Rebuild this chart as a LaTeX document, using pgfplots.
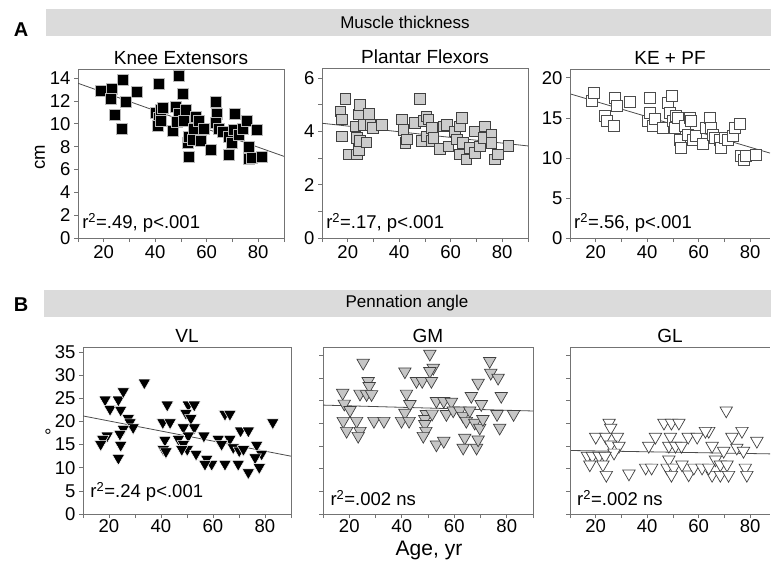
\documentclass[border=0pt]{standalone}
\usepackage{fontspec}
\setmainfont{Liberation Sans}
\usepackage{pgfplots}
\pgfplotsset{compat=1.18}
\newcommand\fs[1]{\fontsize{#1}{#1}\selectfont}
\definecolor{frame}{gray}{0.45}
\definecolor{bann}{gray}{0.86}
\tikzset{rlab/.style={anchor=base west, font=\fs{18.5}, inner sep=0pt}}
\pgfplotsset{
  panel/.style={
    scale only axis, anchor=south west, width=206pt,
    xmin=10, xmax=90, ymin=0,
    xtick={20,40,60,80}, minor xtick={10,30,50,70,90},
    tick pos=left, tick align=outside,
    major tick length=4pt, minor tick length=4pt,
    axis line style={frame, line width=0.7pt},
    every tick/.append style={frame, line width=0.7pt},
    every minor tick/.append style={frame, line width=0.7pt},
    tick label style={font=\fs{18.5}, black},
    /pgf/number format/assume math mode=true,
    title style={font=\fs{19}, yshift=-5pt},
  },
  lowrow/.style={xticklabel style={yshift=2pt}},
  openright/.style={separate axis lines, y axis line style={draw=none},
    extra description/.code={\draw[frame, line width=0.7pt] (rel axis cs:0,0) -- (rel axis cs:0,1);}},
  reg/.style={black!70, line width=0.8pt, no marks},
  sqK/.style={only marks, mark=square*, mark size=5.5pt, mark options={fill=black, draw=gray!55, line width=0.5pt}},
  sqP/.style={only marks, mark=square*, mark size=5.3pt, mark options={fill=gray!40, draw=black!75, line width=0.7pt}},
  sqT/.style={only marks, mark=square*, mark size=5.5pt, mark options={fill=white, draw=black!70, line width=0.7pt}},
  trK/.style={only marks, mark=triangle*, mark size=7.2pt, mark options={rotate=180, fill=black, draw=white, line width=0.5pt}},
  trG/.style={only marks, mark=triangle*, mark size=7.2pt, mark options={rotate=180, fill=gray!45, draw=black!75, line width=0.7pt}},
  trW/.style={only marks, mark=triangle*, mark size=7.2pt, mark options={rotate=180, fill=white, draw=black!75, line width=0.7pt}},
}
\begin{document}
\begin{tikzpicture}
\path (0pt,0pt) rectangle (771pt,-565pt);
% banners
\fill[bann] (46pt,-9pt) rectangle (771pt,-36pt);
\node[font=\fs{17}] at (405pt,-22.5pt) {Muscle thickness};
\fill[bann] (44pt,-290pt) rectangle (771pt,-317pt);
\node[font=\fs{17}] at (407pt,-303.5pt) {Pennation angle};
\node[font=\bfseries\fs{20}] at (21pt,-30pt) {A};
\node[font=\bfseries\fs{20}] at (21pt,-305pt) {B};
\node[font=\fs{18.5}, rotate=90] at (40pt,-157pt) {cm};
\node[font=\fs{18.5}, rotate=90] at (52pt,-432pt) {°};
\node[font=\fs{21}, inner sep=0pt, anchor=base] at (429pt,-555pt) {Age, yr};

% ---- Knee Extensors
\begin{axis}[panel, at={(78pt,-238pt)}, height=169pt, ymax=14.8,
  ytick={0,2,4,6,8,10,12,14}, title={Knee Extensors}]
\addplot[reg] coordinates {(10,13.55) (90,7.15)};
\addplot[sqK] coordinates {
(18.8,12.9) (23.3,13.1) (22.9,12.2) (24.2,10.8) (27.4,13.9) (27.1,9.6) (28.4,11.9)
(32.8,12.8) (41.3,13.5) (40.3,11.0) (41.3,10.5) (40.9,9.8) (42.2,11.2) (42.2,10.3)
(42.9,11.4) (46.7,9.4) (48.0,11.5) (49.0,14.2) (49.3,10.9) (48.4,10.2) (50.6,12.6)
(51.2,10.3) (51.9,11.2) (52.5,8.3) (52.9,8.9) (52.9,7.1) (54.5,8.6) (55.1,9.6)
(55.7,10.6) (57.0,10.3) (57.7,8.5) (59.0,9.6) (61.5,7.7) (63.5,11.9) (63.9,10.9)
(63.5,10.1) (64.8,9.6) (66.1,9.3) (68.6,8.9) (69.9,8.3) (70.6,9.5) (68.6,7.3)
(71.0,10.9) (72.5,9.0) (73.8,9.6) (75.7,10.3) (76.4,8.0) (76.4,6.9) (77.4,7.0)
(79.6,9.5) (81.5,7.1)};
\node[rlab] at (rel axis cs:0.02,0.055) {r\textsuperscript{2}=.49, p<.001};
\end{axis}

% ---- Plantar Flexors
\begin{axis}[panel, at={(322pt,-238pt)}, height=170pt, ymax=6.37,
  ytick={0,2,4,6}, minor ytick={1,3,5}, title={Plantar Flexors}]
\addplot[reg] coordinates {(10,4.3) (90,3.45)};
\addplot[sqP] coordinates {
(17.1,4.75) (17.7,4.44) (19.0,5.21) (17.7,3.81) (20.3,3.13) (22.9,4.19) (23.5,3.13)
(23.5,3.75) (24.2,4.63) (24.8,5.0) (24.2,3.31) (24.8,3.63) (26.1,4.25) (27.2,3.59)
(28.1,4.66) (28.7,4.25) (29.7,4.13) (33.2,4.25) (41.0,4.44) (41.6,4.06) (42.3,3.56)
(42.9,3.69) (46.1,4.31) (48.1,5.21) (48.7,3.63) (49.4,4.38) (50.6,4.56) (50.6,3.81)
(51.3,4.44) (52.6,4.13) (52.6,3.63) (53.2,3.75) (55.8,3.34) (57.1,4.19) (58.4,4.25)
(59.0,3.44) (61.6,4.0) (62.3,3.69) (63.5,4.19) (64.2,4.5) (63.5,3.13) (64.8,3.56)
(66.1,2.94) (67.4,3.38) (69.4,4.0) (69.4,3.19) (71.3,3.44) (72.6,3.75) (73.2,4.19)
(75.8,3.88) (75.8,3.56) (77.1,2.94) (78.4,3.13) (82.3,3.46)};
\node[rlab] at (rel axis cs:0.02,0.055) {r\textsuperscript{2}=.17, p<.001};
\end{axis}

% ---- KE + PF
\begin{axis}[panel, openright, at={(570pt,-238pt)}, width=200pt, xmax=87.7, height=169pt, ymax=21.1,
  ytick={0,5,10,15,20}, title={KE + PF}]
\addplot[reg] coordinates {(10,18.0) (87.7,10.6)};
\addplot[sqT] coordinates {
(18.4,17.1) (19.3,18.1) (23.5,15.2) (24.5,14.6) (27.2,14.0) (27.4,17.5) (28.3,16.5)
(33.2,17.0) (40.3,14.6) (41.2,17.5) (41.0,15.6) (42.3,14.0) (42.9,14.9) (46.1,13.75)
(48.1,16.9) (49.4,17.8) (48.7,15.6) (50.0,14.6) (50.6,13.75) (51.3,15.2) (51.9,15.0)
(52.6,12.3) (53.2,11.25) (54.5,14.0) (55.8,12.9) (56.5,15.0) (57.1,14.6) (57.7,12.3)
(59.0,12.7) (61.6,11.7) (62.9,13.75) (64.2,15.0) (64.8,13.75) (65.5,12.9) (66.1,12.5)
(68.1,12.3) (68.7,11.25) (70.0,12.5) (71.3,12.3) (73.2,12.7) (73.9,13.75) (75.8,14.2)
(76.5,10.2) (77.7,9.8) (78.4,10.2) (82.3,10.4)};
\node[rlab] at (rel axis cs:0.02,0.055) {r\textsuperscript{2}=.56, p<.001};
\end{axis}

% ---- VL
\begin{axis}[panel, lowrow, at={(83pt,-514pt)}, width=208pt, height=167pt, ymax=36.1,
  ytick={0,5,10,15,20,25,30,35}, title={VL}]
\addplot[reg] coordinates {(10,21.2) (90,12.5)};
\addplot[trK] coordinates {
(18.5,24.7) (23.6,24.7) (25.5,26.5) (33.6,28.4) (20.4,22.7) (24.5,22.5) (27.4,20.7)
(28.1,19.8) (29.3,18.7) (25.5,18.4) (24.2,17.3) (19.3,16.9) (17.6,16.2) (16.8,15.1)
(24.5,14.9) (23.6,12.1) (42.4,23.6) (40.7,19.8) (43.5,19.8) (41.5,16.0) (40.9,14.0)
(41.9,13.5) (50.5,23.6) (52.8,23.6) (49.6,21.8) (51.5,20.7) (52.8,18.7) (48.6,18.7)
(50.5,16.9) (56.5,16.9) (46.7,16.2) (48.6,15.1) (50.1,14.0) (48.0,14.0) (53.5,13.0)
(57.6,11.9) (59.5,10.8) (56.9,10.8) (64.6,21.6) (66.5,21.6) (62.0,16.2) (66.5,16.2)
(63.3,15.1) (67.8,14.4) (70.1,13.7) (71.7,14.0) (64.6,10.8) (69.7,10.8) (70.6,18.0)
(73.6,18.0) (76.8,14.9) (78.7,13.0) (76.2,12.2) (73.6,9.0) (77.8,10.1) (83.0,19.8)};
\node[rlab] at (rel axis cs:0.035,0.1) {r\textsuperscript{2}=.24 p<.001};
\end{axis}

% ---- GM
\begin{axis}[panel, lowrow, at={(323pt,-514pt)}, width=210pt, height=167pt, ymax=36.8,
  ytick={0,5,10,15,20,25,30,35}, yticklabels={}, title={GM}]
\addplot[reg] coordinates {(10,24.0) (90,22.7)};
\addplot[trG] coordinates {
(17.5,26.7) (18.1,24.3) (20.3,22.9) (17.7,20.5) (22.8,20.5) (19.0,18.3) (24.1,18.3)
(23.4,17.2) (25.3,33.3) (27.2,29.3) (27.6,28.2) (24.1,26.5) (26.6,26.4) (28.5,26.4)
(29.4,20.5) (33.2,20.5) (41.2,31.4) (41.8,26.5) (43.1,24.2) (41.2,22.3) (39.9,20.5)
(42.8,20.5) (45.6,29.3) (47.8,29.3) (50.7,35.3) (52.0,32.2) (50.7,31.5) (51.3,29.3)
(49.4,22.0) (48.8,20.9) (48.8,19.8) (49.2,18.3) (48.2,17.2) (51.6,22.1) (53.2,24.9)
(53.2,15.3) (56.0,16.1) (56.0,24.9) (57.0,22.0) (58.9,24.7) (59.6,22.8) (62.1,22.8)
(63.4,21.6) (64.6,20.5) (64.0,16.8) (66.5,26.0) (65.9,22.8) (63.4,14.6) (68.5,14.6)
(69.1,28.9) (70.3,24.2) (67.8,20.1) (69.7,19.0) (70.9,20.9) (69.1,16.4) (73.5,33.7)
(73.9,31.1) (76.7,30.0) (77.9,26.0) (76.3,22.0) (77.3,19.0) (82.6,22.0)};
\node[rlab] at (rel axis cs:0.035,0.05) {r\textsuperscript{2}=.002 ns};
\end{axis}

% ---- GL
\begin{axis}[panel, lowrow, openright, at={(570pt,-514pt)}, width=200pt, xmax=87.7, height=167pt, ymax=36.8,
  ytick={0,5,10,15,20,25,30,35}, yticklabels={}, title={GL}]
\addplot[reg] coordinates {(10,14.0) (87.7,13.25)};
\addplot[trW] coordinates {
(25.2,20.1) (25.8,19.0) (20.0,17.0) (23.9,17.0) (28.4,17.0) (25.8,15.3) (29.0,15.0)
(27.1,13.5) (16.8,12.8) (18.7,12.8) (21.3,12.8) (23.6,12.8) (17.7,10.9) (22.8,10.9)
(24.1,8.6) (32.9,8.9) (39.4,10.2) (41.7,10.2) (40.6,15.0) (43.2,17.0) (46.5,20.1)
(49.4,20.1) (52.3,20.1) (49.0,17.0) (48.4,15.0) (51.0,15.0) (53.3,15.0) (55.9,17.0)
(59.4,17.0) (48.4,12.0) (47.7,10.2) (50.3,10.2) (49.4,8.6) (53.5,10.9) (56.1,8.7)
(58.1,10.2) (61.3,10.2) (63.9,18.3) (62.6,18.3) (65.2,15.0) (66.5,12.0) (65.2,8.6)
(63.9,10.2) (68.4,8.6) (68.4,10.9) (69.7,13.9) (71.0,10.9) (70.7,22.8) (72.9,17.0)
(74.8,14.6) (76.8,18.3) (77.4,13.9) (71.6,8.6) (78.1,10.2) (78.7,8.6) (82.6,16.1)};
\node[rlab] at (rel axis cs:0.035,0.05) {r\textsuperscript{2}=.002 ns};
\end{axis}
\end{tikzpicture}
\end{document}
